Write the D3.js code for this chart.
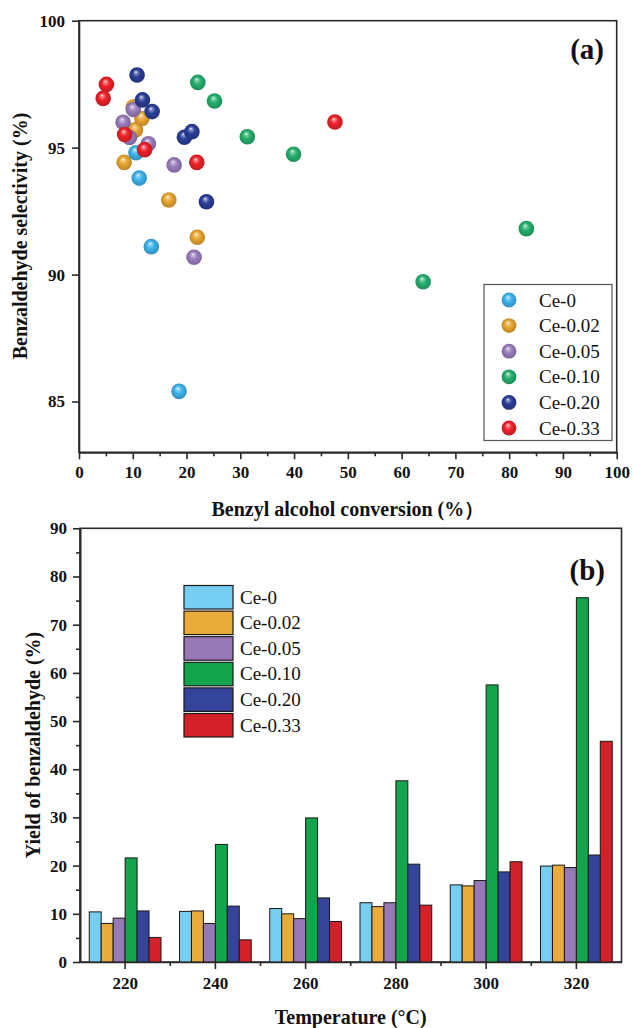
<!DOCTYPE html>
<html><head><meta charset="utf-8">
<script src="https://cdn.jsdelivr.net/npm/d3@7"></script>
<style>body{margin:0;background:#fff}svg{display:block}</style>
</head><body>
<svg id="c" width="633" height="1028"></svg>
<script>
// ---------- data ----------
const seriesNames = ["Ce-0","Ce-0.02","Ce-0.05","Ce-0.10","Ce-0.20","Ce-0.33"];
// scatter (conversion %, selectivity %)
const convCe0   = [10.6, 11.2, 13.45, 18.6];
const selCe0    = [94.8, 93.8, 91.1, 85.4];
const convCe002 = [8.4, 10.5, 11.7, 10.1, 16.7, 22.0];
const selCe002  = [94.42, 95.7, 96.15, 96.6, 92.94, 91.47];
const convCe005 = [8.2, 10.1, 9.4, 12.9, 17.7, 21.4];
const selCe005  = [96.0, 96.5, 95.4, 95.15, 94.32, 90.68];
const convCe010 = [22.1, 25.2, 31.3, 39.9, 64.0, 83.2];
const selCe010  = [97.57, 96.84, 95.43, 94.74, 89.72, 91.81];
const convCe020 = [10.8, 11.8, 13.6, 19.6, 21.0, 23.7];
const selCe020  = [97.86, 96.88, 96.42, 95.41, 95.63, 92.87];
const convCe033 = [5.1, 4.5, 8.5, 12.2, 21.9, 47.6];
const selCe033  = [97.49, 96.94, 95.52, 94.92, 94.42, 96.01];
// bars: yield of benzaldehyde (%) at each temperature
const temps = ["220","240","260","280","300","320"];
const yieldCe0   = [10.4, 10.5, 11.1, 12.3, 16.0, 19.9];
const yieldCe002 = [8.0, 10.6, 10.0, 11.5, 15.8, 20.1];
const yieldCe005 = [9.1, 8.0, 9.0, 12.3, 16.9, 19.6];
const yieldCe010 = [21.6, 24.4, 29.9, 37.6, 57.5, 75.6];
const yieldCe020 = [10.6, 11.6, 13.3, 20.3, 18.7, 22.2];
const yieldCe033 = [5.1, 4.6, 8.4, 11.8, 20.8, 45.8];
const xTicksA = [0,10,20,30,40,50,60,70,80,90,100];
const yTicksA = [85,90,95,100];
const yTicksB = [0,10,20,30,40,50,60,70,80,90];

const ballColors = ["#3DB2EC","#E8A530","#9A7CBD","#25AE6C","#2B3E98","#EE2128"];
const barColors  = ["#76CFF3","#E9AC3A","#9679B6","#13A54B","#34449A","#D42028"];

const scatterSeries = [
  [convCe0, selCe0],[convCe002, selCe002],[convCe005, selCe005],
  [convCe010, selCe010],[convCe020, selCe020],[convCe033, selCe033]];
const barSeries = [yieldCe0,yieldCe002,yieldCe005,yieldCe010,yieldCe020,yieldCe033];

const svg = d3.select("#c");
const FONT = "'Liberation Serif','Times New Roman',serif";
const AX = "#2a2a2a";

// gradients for balls
const defs = svg.append("defs");
ballColors.forEach((c,i)=>{
  const g = defs.append("radialGradient").attr("id","ball"+i)
    .attr("cx","50%").attr("cy","50%").attr("r","55%").attr("fx","42%").attr("fy","30%");
  g.append("stop").attr("offset","0%").attr("stop-color","#ffffff");
  g.append("stop").attr("offset","14%").attr("stop-color",d3.interpolateRgb(c,"#fff")(0.45));
  g.append("stop").attr("offset","45%").attr("stop-color",c);
  g.append("stop").attr("offset","100%").attr("stop-color",d3.color(c).darker(0.7));
});

// ---------- panel (a) ----------
const A = {l:79, r:616.7, t:20.7, b:452.3};
const xA = d3.scaleLinear().domain([0,100]).range([A.l,A.r]);
const yA = d3.scaleLinear().domain([83,100]).range([A.b,A.t]);

const gA = svg.append("g");
gA.append("rect").attr("x",A.l).attr("y",A.t).attr("width",A.r-A.l).attr("height",A.b-A.t)
  .attr("fill","none").attr("stroke",AX).attr("stroke-width",1.6);

const xAxA = gA.append("g").attr("transform",`translate(0,${A.b})`)
  .call(d3.axisBottom(xA).tickValues(xTicksA).tickSize(7).tickSizeOuter(0).tickFormat(d3.format("d")));
const xMinA = gA.append("g").attr("transform",`translate(0,${A.b})`)
  .call(d3.axisBottom(xA).tickValues(d3.range(5,100,10)).tickSize(4).tickSizeOuter(0).tickFormat(""));
const yAxA = gA.append("g").attr("transform",`translate(${A.l},0)`)
  .call(d3.axisLeft(yA).tickValues(yTicksA).tickSize(7).tickSizeOuter(0).tickFormat(d3.format("d")));
[xAxA,xMinA,yAxA].forEach(a=>{
  a.select(".domain").attr("stroke",AX).attr("stroke-width",1.6);
  a.selectAll(".tick line").attr("stroke",AX).attr("stroke-width",1.6);
  a.selectAll("text").attr("font-family",FONT).attr("font-weight","bold").attr("font-size",17).attr("fill","#111");
});
xAxA.selectAll("text").attr("dy","0.71em").attr("y",14);
yAxA.selectAll("text").attr("x",-14);

gA.append("text").attr("x",(A.l+A.r)/2).attr("y",516).attr("text-anchor","middle")
  .attr("font-family",FONT).attr("font-weight","bold").attr("font-size",20).attr("fill","#111")
  .text("Benzyl alcohol conversion (%）");
gA.append("text").attr("transform",`translate(27,236) rotate(-90)`).attr("text-anchor","middle")
  .attr("font-family",FONT).attr("font-weight","bold").attr("font-size",20).attr("fill","#111")
  .text("Benzaldehyde selectivity (%)");
gA.append("text").attr("x",604).attr("y",59).attr("text-anchor","end")
  .attr("font-family",FONT).attr("font-weight","bold").attr("font-size",29).attr("fill","#111").text("(a)");

scatterSeries.forEach((s,i)=>{
  const pts = s[0].map((x,j)=>[x,s[1][j]]);
  gA.append("g").selectAll("circle").data(pts).join("circle")
    .attr("cx",d=>xA(d[0])).attr("cy",d=>yA(d[1])).attr("r",7.8)
    .attr("fill",`url(#ball${i})`);
});

// legend (a)
const legA = gA.append("g");
legA.append("rect").attr("x",484).attr("y",284.5).attr("width",128).attr("height",156)
  .attr("fill","#fff").attr("stroke","#555").attr("stroke-width",1.2);
seriesNames.forEach((n,i)=>{
  const cy = 300 + i*25.6;
  legA.append("circle").attr("cx",509).attr("cy",cy).attr("r",7.4).attr("fill",`url(#ball${i})`);
  legA.append("text").attr("x",539).attr("y",cy+6.5).attr("font-family",FONT).attr("font-size",19)
    .attr("fill","#111").text(n);
});

// ---------- panel (b) ----------
const B = {l:80, r:621.5, t:528.3, b:962};
const xB = d3.scaleBand().domain(temps).range([B.l,B.r]).padding(0);
const inner = d3.scaleBand().domain(seriesNames)
  .range([xB.bandwidth()*0.1025, xB.bandwidth()*(1-0.1025)]).padding(0);
const yB = d3.scaleLinear().domain([0,90]).range([B.b,B.t]);

const gB = svg.append("g");
gB.append("rect").attr("x",B.l).attr("y",B.t).attr("width",B.r-B.l).attr("height",B.b-B.t)
  .attr("fill","none").attr("stroke",AX).attr("stroke-width",1.6);

barSeries.forEach((vals,i)=>{
  gB.append("g").selectAll("rect").data(vals.map((v,j)=>[temps[j],v])).join("rect")
    .attr("x",d=>xB(d[0])+inner(seriesNames[i])).attr("width",inner.bandwidth())
    .attr("y",d=>yB(d[1])).attr("height",d=>yB(0)-yB(d[1]))
    .attr("fill",barColors[i]).attr("stroke","#1a1a1a").attr("stroke-width",1);
});

const xAxB = gB.append("g").attr("transform",`translate(0,${B.b})`)
  .call(d3.axisBottom(xB).tickSize(7).tickSizeOuter(0));
const xMinB = gB.append("g").attr("transform",`translate(0,${B.b})`);
xMinB.selectAll("line").data(temps.slice(1)).join("line")
  .attr("x1",d=>xB(d)).attr("x2",d=>xB(d)).attr("y1",0).attr("y2",4)
  .attr("stroke",AX).attr("stroke-width",1.6);
const yAxB = gB.append("g").attr("transform",`translate(${B.l},0)`)
  .call(d3.axisLeft(yB).tickValues(yTicksB).tickSize(7).tickSizeOuter(0));
const yMinB = gB.append("g").attr("transform",`translate(${B.l},0)`)
  .call(d3.axisLeft(yB).tickValues(d3.range(5,90,10)).tickSize(4).tickSizeOuter(0).tickFormat(""));
[xAxB,yAxB,yMinB].forEach(a=>{
  a.select(".domain").attr("stroke",AX).attr("stroke-width",1.6);
  a.selectAll(".tick line").attr("stroke",AX).attr("stroke-width",1.6);
  a.selectAll("text").attr("font-family",FONT).attr("font-weight","bold").attr("font-size",17).attr("fill","#111");
});
xAxB.selectAll("text").attr("dy","0.71em").attr("y",15);
yAxB.selectAll("text").attr("x",-13);

gB.append("text").attr("x",(B.l+B.r)/2).attr("y",1024).attr("text-anchor","middle")
  .attr("font-family",FONT).attr("font-weight","bold").attr("font-size",20).attr("fill","#111")
  .text("Temperature (°C)");
gB.append("text").attr("transform",`translate(40,745) rotate(-90)`).attr("text-anchor","middle")
  .attr("font-family",FONT).attr("font-weight","bold").attr("font-size",20).attr("fill","#111")
  .text("Yield of benzaldehyde (%)");
gB.append("text").attr("x",605).attr("y",580).attr("text-anchor","end")
  .attr("font-family",FONT).attr("font-weight","bold").attr("font-size",29).attr("fill","#111").text("(b)");

const legB = gB.append("g");
seriesNames.forEach((n,i)=>{
  const y0 = 585.5 + i*25.6;
  legB.append("rect").attr("x",184).attr("y",y0).attr("width",49).attr("height",23.5)
    .attr("fill",barColors[i]).attr("stroke","#1a1a1a").attr("stroke-width",1.2);
  legB.append("text").attr("x",240).attr("y",y0+18).attr("font-family",FONT).attr("font-size",19)
    .attr("fill","#111").text(n);
});
</script>
</body></html>
